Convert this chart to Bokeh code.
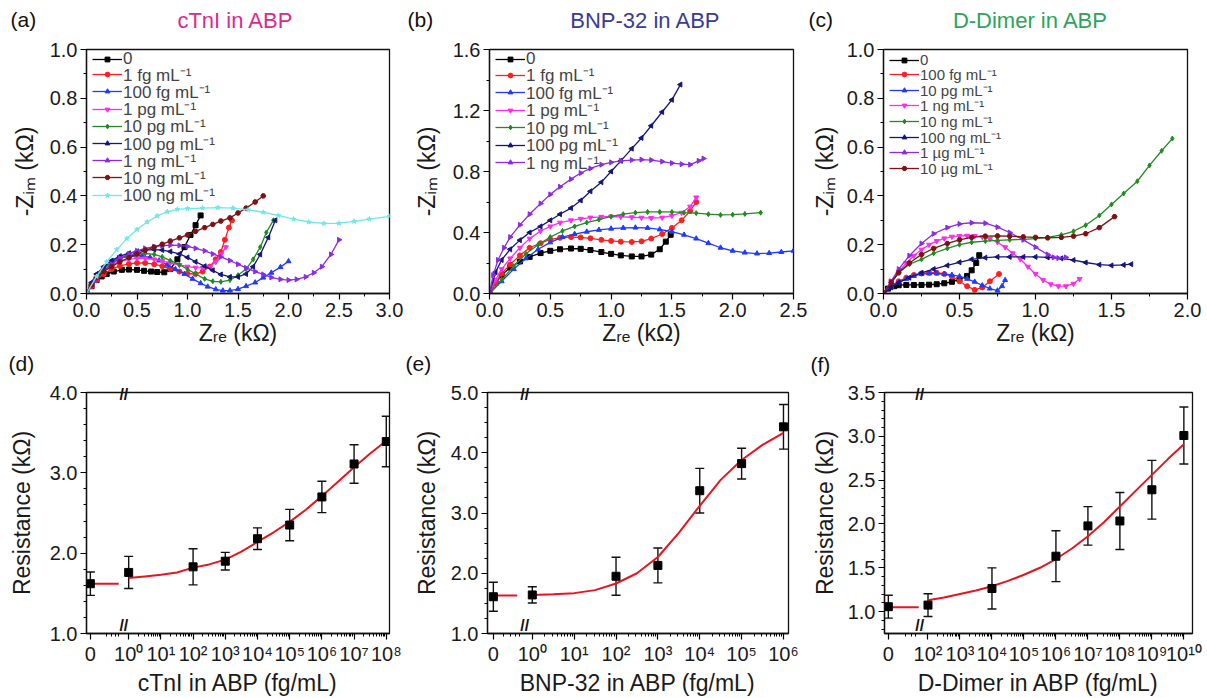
import math
from bokeh.plotting import figure
from bokeh.models import (Range1d, FixedTicker, PrintfTickFormatter, Label, Legend,
                          LegendItem, ColumnDataSource, Whisker, TeeHead, LinearAxis)
from bokeh.layouts import column, row
from bokeh.embed import file_html
from bokeh.resources import INLINE

FONT = "Liberation Sans"

# ====================== (a) cTnI in ABP : Nyquist ======================
A_NAMES = ["0", "1 fg mL⁻¹", "100 fg mL⁻¹", "1 pg mL⁻¹", "10 pg mL⁻¹",
           "100 pg mL⁻¹", "1 ng mL⁻¹", "10 ng mL⁻¹", "100 ng mL⁻¹"]
a0_x = [0, 0.05, 0.1, 0.15, 0.2, 0.27, 0.35, 0.42, 0.5, 0.57, 0.64, 0.7, 0.77, 0.83, 0.9, 0.97, 1.03, 1.08, 1.13]
a0_y = [0, 0.03, 0.055, 0.07, 0.08, 0.09, 0.097, 0.098, 0.097, 0.093, 0.09, 0.088, 0.087, 0.1, 0.14, 0.19, 0.24, 0.28, 0.32]
a1_x = [0, 0.05, 0.1, 0.17, 0.25, 0.33, 0.42, 0.5, 0.58, 0.67, 0.75, 0.83, 0.92, 1.0, 1.08, 1.15, 1.22, 1.28, 1.33, 1.37, 1.41, 1.44]
a1_y = [0, 0.03, 0.055, 0.08, 0.1, 0.113, 0.121, 0.125, 0.125, 0.12, 0.112, 0.1, 0.09, 0.082, 0.08, 0.09, 0.11, 0.14, 0.17, 0.22, 0.27, 0.3]
a2_x = [0, 0.05, 0.1, 0.17, 0.25, 0.33, 0.4, 0.47, 0.55, 0.63, 0.72, 0.8, 0.88, 0.97, 1.05, 1.13, 1.2, 1.28, 1.35, 1.42, 1.5, 1.58, 1.67, 1.75, 1.83, 1.92, 2.0]
a2_y = [0, 0.04, 0.075, 0.105, 0.13, 0.146, 0.154, 0.157, 0.155, 0.148, 0.135, 0.118, 0.1, 0.08, 0.06, 0.042, 0.028, 0.017, 0.012, 0.012, 0.018, 0.03, 0.045, 0.065, 0.085, 0.108, 0.132]
a3_x = [0, 0.05, 0.1, 0.17, 0.25, 0.33, 0.42, 0.5, 0.58, 0.67, 0.75, 0.83, 0.92, 1.0, 1.08, 1.15, 1.22, 1.28, 1.33, 1.38]
a3_y = [0, 0.035, 0.065, 0.095, 0.118, 0.132, 0.14, 0.144, 0.144, 0.14, 0.133, 0.125, 0.117, 0.11, 0.106, 0.105, 0.11, 0.13, 0.16, 0.19]
a4_x = [0, 0.05, 0.1, 0.17, 0.25, 0.33, 0.42, 0.5, 0.58, 0.67, 0.75, 0.83, 0.92, 1.0, 1.08, 1.17, 1.25, 1.33, 1.42, 1.5, 1.58, 1.65, 1.72, 1.78, 1.85]
a4_y = [0, 0.035, 0.07, 0.1, 0.125, 0.143, 0.155, 0.162, 0.164, 0.16, 0.15, 0.135, 0.118, 0.1, 0.08, 0.06, 0.05, 0.048, 0.055, 0.075, 0.1, 0.14, 0.19, 0.25, 0.3]
a5_x = [0, 0.05, 0.1, 0.17, 0.25, 0.33, 0.42, 0.5, 0.58, 0.67, 0.75, 0.83, 0.92, 1.0, 1.08, 1.17, 1.25, 1.33, 1.42, 1.5, 1.58, 1.65, 1.72, 1.8, 1.87]
a5_y = [0, 0.045, 0.08, 0.11, 0.135, 0.153, 0.165, 0.173, 0.178, 0.18, 0.178, 0.172, 0.162, 0.148, 0.13, 0.112, 0.095, 0.078, 0.068, 0.068, 0.08, 0.11, 0.16, 0.23, 0.3]
a6_x = [0, 0.08, 0.17, 0.25, 0.33, 0.42, 0.5, 0.58, 0.67, 0.75, 0.83, 0.92, 1.0, 1.08, 1.17, 1.25, 1.33, 1.42, 1.5, 1.58, 1.67, 1.75, 1.83, 1.92, 2.0, 2.08, 2.17, 2.25, 2.33, 2.42, 2.5]
a6_y = [0, 0.05, 0.09, 0.12, 0.145, 0.162, 0.175, 0.185, 0.192, 0.196, 0.198, 0.197, 0.193, 0.185, 0.175, 0.162, 0.15, 0.135, 0.12, 0.105, 0.09, 0.078, 0.066, 0.058, 0.055, 0.058, 0.068, 0.085, 0.11, 0.16, 0.22]
a7_x = [0, 0.05, 0.1, 0.17, 0.25, 0.33, 0.42, 0.5, 0.58, 0.67, 0.75, 0.83, 0.92, 1.0, 1.08, 1.17, 1.25, 1.33, 1.42, 1.5, 1.58, 1.67, 1.75]
a7_y = [0, 0.035, 0.065, 0.09, 0.11, 0.13, 0.147, 0.162, 0.177, 0.19, 0.202, 0.215, 0.228, 0.24, 0.255, 0.27, 0.283, 0.297, 0.31, 0.33, 0.35, 0.375, 0.4]
a8_x = [0, 0.1, 0.2, 0.3, 0.4, 0.5, 0.6, 0.7, 0.8, 0.9, 1.0, 1.15, 1.3, 1.45, 1.6, 1.75, 1.9, 2.05, 2.2, 2.35, 2.5, 2.65, 2.8, 3.0]
a8_y = [0, 0.07, 0.13, 0.18, 0.225, 0.262, 0.293, 0.318, 0.335, 0.345, 0.348, 0.35, 0.352, 0.35, 0.343, 0.333, 0.32, 0.305, 0.293, 0.287, 0.288, 0.296, 0.305, 0.316]

# ====================== (b) BNP-32 in ABP : Nyquist ======================
B_NAMES = ["0", "1 fg mL⁻¹", "100 fg mL⁻¹", "1 pg mL⁻¹", "10 pg mL⁻¹", "100 pg mL⁻¹", "1 ng mL⁻¹"]
b0_x = [0, 0.05, 0.1, 0.17, 0.25, 0.33, 0.42, 0.5, 0.58, 0.67, 0.75, 0.83, 0.92, 1.0, 1.08, 1.17, 1.25, 1.33, 1.4, 1.45, 1.49]
b0_y = [0, 0.07, 0.12, 0.17, 0.21, 0.24, 0.265, 0.28, 0.29, 0.295, 0.293, 0.285, 0.272, 0.26, 0.25, 0.243, 0.243, 0.255, 0.29, 0.34, 0.385]
b1_x = [0, 0.05, 0.1, 0.17, 0.25, 0.33, 0.42, 0.5, 0.58, 0.67, 0.75, 0.83, 0.92, 1.0, 1.08, 1.17, 1.25, 1.33, 1.42, 1.5, 1.58, 1.65, 1.7]
b1_y = [0, 0.07, 0.13, 0.19, 0.25, 0.3, 0.33, 0.355, 0.365, 0.37, 0.368, 0.362, 0.352, 0.345, 0.34, 0.338, 0.342, 0.36, 0.39, 0.43, 0.48, 0.54, 0.6]
b2_x = [0, 0.1, 0.2, 0.3, 0.4, 0.5, 0.6, 0.7, 0.8, 0.9, 1.0, 1.1, 1.2, 1.3, 1.4, 1.5, 1.6, 1.7, 1.8, 1.9, 2.0, 2.1, 2.2, 2.3, 2.4, 2.5]
b2_y = [0, 0.08, 0.16, 0.23, 0.29, 0.335, 0.37, 0.39, 0.405, 0.417, 0.425, 0.43, 0.432, 0.43, 0.42, 0.405, 0.385, 0.36, 0.33, 0.3, 0.28, 0.268, 0.262, 0.265, 0.272, 0.28]
b3_x = [0, 0.05, 0.1, 0.17, 0.25, 0.33, 0.42, 0.5, 0.58, 0.67, 0.75, 0.83, 0.92, 1.0, 1.08, 1.17, 1.25, 1.33, 1.42, 1.5, 1.58, 1.65, 1.7]
b3_y = [0, 0.09, 0.16, 0.23, 0.3, 0.36, 0.41, 0.44, 0.465, 0.48, 0.49, 0.498, 0.503, 0.505, 0.503, 0.5, 0.497, 0.495, 0.498, 0.51, 0.53, 0.57, 0.63]
b4_x = [0, 0.1, 0.2, 0.3, 0.4, 0.5, 0.6, 0.7, 0.8, 0.9, 1.0, 1.1, 1.2, 1.3, 1.4, 1.5, 1.6, 1.7, 1.8, 1.9, 2.0, 2.1, 2.23]
b4_y = [0, 0.09, 0.18, 0.26, 0.32, 0.37, 0.41, 0.44, 0.465, 0.485, 0.505, 0.52, 0.53, 0.535, 0.535, 0.535, 0.53, 0.527, 0.52, 0.515, 0.517, 0.522, 0.53]
b5_x = [0, 0.05, 0.1, 0.17, 0.25, 0.33, 0.42, 0.5, 0.58, 0.67, 0.75, 0.83, 0.92, 1.0, 1.08, 1.17, 1.25, 1.33, 1.42, 1.5, 1.57]
b5_y = [0, 0.14, 0.22, 0.29, 0.35, 0.4, 0.44, 0.48, 0.52, 0.56, 0.61, 0.67, 0.73, 0.8, 0.87, 0.95, 1.02, 1.1, 1.19, 1.27, 1.37]
b6_x = [0, 0.03, 0.07, 0.12, 0.17, 0.25, 0.33, 0.42, 0.5, 0.58, 0.67, 0.75, 0.83, 0.92, 1.0, 1.08, 1.17, 1.25, 1.33, 1.42, 1.5, 1.58, 1.65, 1.72, 1.76]
b6_y = [0, 0.12, 0.22, 0.3, 0.37, 0.45, 0.52, 0.59, 0.65, 0.7, 0.75, 0.79, 0.82, 0.845, 0.86, 0.87, 0.875, 0.878, 0.875, 0.865, 0.855, 0.848, 0.845, 0.87, 0.885]

# ====================== (c) D-Dimer in ABP : Nyquist ======================
C_NAMES = ["0", "100 fg mL⁻¹", "10 pg mL⁻¹", "1 ng mL⁻¹", "10 ng mL⁻¹",
           "100 ng mL⁻¹", "1 µg mL⁻¹", "10 µg mL⁻¹"]
c0_x = [0, 0.03, 0.07, 0.1, 0.15, 0.2, 0.25, 0.3, 0.35, 0.4, 0.45, 0.5, 0.55, 0.58, 0.61, 0.63]
c0_y = [0, 0.02, 0.03, 0.034, 0.035, 0.035, 0.035, 0.036, 0.038, 0.042, 0.048, 0.058, 0.072, 0.095, 0.125, 0.157]
c1_x = [0, 0.05, 0.1, 0.15, 0.2, 0.25, 0.3, 0.35, 0.4, 0.45, 0.5, 0.55, 0.6, 0.65, 0.7, 0.76]
c1_y = [0, 0.03, 0.05, 0.065, 0.076, 0.082, 0.085, 0.085, 0.08, 0.07, 0.05, 0.03, 0.015, 0.025, 0.05, 0.08]
c2_x = [0, 0.05, 0.1, 0.15, 0.2, 0.25, 0.3, 0.35, 0.4, 0.45, 0.5, 0.55, 0.6, 0.65, 0.7, 0.75, 0.78, 0.8]
c2_y = [0, 0.025, 0.045, 0.06, 0.072, 0.08, 0.082, 0.082, 0.08, 0.076, 0.07, 0.06, 0.048, 0.033, 0.02, 0.012, 0.03, 0.055]
c3_x = [0, 0.05, 0.1, 0.15, 0.2, 0.25, 0.3, 0.35, 0.4, 0.45, 0.5, 0.55, 0.6, 0.65, 0.7, 0.75, 0.8, 0.85, 0.9, 0.95, 1.0, 1.05, 1.1, 1.15, 1.2, 1.25, 1.29]
c3_y = [0, 0.05, 0.09, 0.125, 0.155, 0.18, 0.2, 0.215, 0.226, 0.233, 0.236, 0.237, 0.236, 0.232, 0.224, 0.21, 0.19, 0.165, 0.14, 0.11, 0.08, 0.055, 0.038, 0.03, 0.03, 0.04, 0.06]
c4_x = [0, 0.05, 0.1, 0.17, 0.25, 0.33, 0.42, 0.5, 0.58, 0.67, 0.75, 0.83, 0.92, 1.0, 1.08, 1.17, 1.25, 1.33, 1.42, 1.5, 1.58, 1.67, 1.75, 1.83, 1.9]
c4_y = [0, 0.045, 0.085, 0.12, 0.14, 0.165, 0.185, 0.2, 0.21, 0.215, 0.218, 0.22, 0.222, 0.225, 0.23, 0.24, 0.255, 0.28, 0.32, 0.365, 0.41, 0.46, 0.525, 0.585, 0.635]
c5_x = [0, 0.05, 0.1, 0.17, 0.25, 0.33, 0.42, 0.5, 0.58, 0.67, 0.75, 0.83, 0.92, 1.0, 1.08, 1.17, 1.25, 1.33, 1.42, 1.5, 1.58, 1.63]
c5_y = [0, 0.025, 0.045, 0.065, 0.085, 0.1, 0.115, 0.128, 0.14, 0.147, 0.15, 0.15, 0.15, 0.15, 0.148, 0.144, 0.137, 0.127, 0.118, 0.115, 0.117, 0.12]
c6_x = [0, 0.05, 0.1, 0.17, 0.25, 0.33, 0.42, 0.5, 0.58, 0.67, 0.75, 0.83, 0.92, 1.0, 1.08, 1.12, 1.15, 1.2]
c6_y = [0, 0.05, 0.1, 0.155, 0.205, 0.245, 0.27, 0.285, 0.29, 0.288, 0.272, 0.25, 0.22, 0.19, 0.16, 0.148, 0.145, 0.148]
c7_x = [0, 0.05, 0.1, 0.17, 0.25, 0.33, 0.42, 0.5, 0.58, 0.67, 0.75, 0.83, 0.92, 1.0, 1.08, 1.17, 1.25, 1.33, 1.42, 1.52]
c7_y = [0, 0.045, 0.085, 0.125, 0.16, 0.185, 0.205, 0.22, 0.23, 0.235, 0.236, 0.235, 0.232, 0.23, 0.228, 0.23, 0.235, 0.245, 0.27, 0.315]

# ====================== (d)-(f) calibration data ======================
D_CONC = [0, 1, 1e2, 1e3, 1e4, 1e5, 1e6, 1e7, 1e8]
D_RES = [1.62, 1.76, 1.83, 1.90, 2.18, 2.35, 2.70, 3.11, 3.39]
D_ERR = [0.145, 0.20, 0.225, 0.11, 0.135, 0.195, 0.195, 0.24, 0.315]
D_FIT_LOGC = [0, 0.5, 1, 1.5, 2, 2.5, 3, 3.5, 4, 4.5, 5, 5.5, 6, 6.5, 7, 7.5, 8]
D_FIT_R = [1.69, 1.71, 1.73, 1.76, 1.82, 1.86, 1.92, 2.02, 2.14, 2.26, 2.39, 2.54, 2.71, 2.89, 3.07, 3.24, 3.40]
D_FIT_ZERO = 1.62

E_CONC = [0, 1, 1e2, 1e3, 1e4, 1e5, 1e6]
E_RES = [1.61, 1.64, 1.95, 2.13, 3.37, 3.82, 4.43]
E_ERR = [0.24, 0.135, 0.315, 0.29, 0.37, 0.255, 0.37]
E_FIT_LOGC = [0, 0.5, 1, 1.5, 2, 2.5, 3, 3.5, 4, 4.5, 5, 5.5, 6]
E_FIT_R = [1.64, 1.65, 1.67, 1.72, 1.83, 2.0, 2.27, 2.67, 3.12, 3.55, 3.88, 4.13, 4.33]
E_FIT_ZERO = 1.63

F_CONC = [0, 1e2, 1e4, 1e6, 1e7, 1e8, 1e9, 1e10]
F_RES = [1.056, 1.074, 1.264, 1.632, 1.978, 2.034, 2.39, 3.009]
F_ERR = [0.13, 0.13, 0.235, 0.29, 0.22, 0.325, 0.335, 0.325]
F_FIT_LOGC = [2, 2.5, 3, 3.5, 4, 4.5, 5, 5.5, 6, 6.5, 7, 7.5, 8, 8.5, 9, 9.5, 10]
F_FIT_R = [1.13, 1.16, 1.2, 1.24, 1.29, 1.35, 1.42, 1.5, 1.6, 1.72, 1.86, 2.02, 2.2, 2.38, 2.56, 2.74, 2.91]
F_FIT_ZERO = 1.05

STYLES = [("#000000", "square", 0.0), ("#FF1F1F", "circle", 0.0), ("#1F3BFF", "triangle", 0.0),
          ("#FF2BEF", "inverted_triangle", 0.0), ("#1E8C1E", "diamond", 0.0),
          ("#15157E", "triangle", math.pi / 2), ("#8B2BE6", "triangle", -math.pi / 2),
          ("#7E1212", "hex", 0.0), ("#6CE9E9", "star", 0.0)]

SUP = {"0": "⁰", "1": "¹", "2": "²", "3": "³", "4": "⁴", "5": "⁵", "6": "⁶", "7": "⁷", "8": "⁸", "9": "⁹"}


def sup(n):
    return "10" + "".join(SUP[ch] for ch in str(n))


def header(w, h, texts):
    """Text strip above a panel: its frame fills the canvas, so 1 data unit = 1 px."""
    p = figure(width=w, height=h, x_range=Range1d(0, w), y_range=Range1d(0, h),
               output_backend="svg", toolbar_location=None,
               x_axis_location=None, y_axis_location=None,
               min_border_left=0, min_border_right=0, min_border_top=0, min_border_bottom=0)
    p.outline_line_color = None
    p.xgrid.visible = False
    p.ygrid.visible = False
    p.background_fill_color = "white"
    p.border_fill_color = "white"
    for txt, x, y, size, color, align in texts:
        p.add_layout(Label(x=x, y=y, text=txt, text_font=FONT, text_font_size=f"{size}px",
                           text_color=color, text_align=align))
    return p


def base_fig(w, h, bl, br, bt, bb, xr, yr):
    p = figure(width=w, height=h, x_range=Range1d(*xr), y_range=Range1d(*yr),
               output_backend="svg", toolbar_location=None,
               min_border_left=bl, min_border_right=br, min_border_top=bt, min_border_bottom=bb)
    p.background_fill_color = "white"
    p.border_fill_color = "white"
    p.xgrid.visible = False
    p.ygrid.visible = False
    p.outline_line_color = "#111111"
    p.outline_line_width = 1.3
    for ax in (p.xaxis[0], p.yaxis[0]):
        ax.axis_line_width = 1.3
        ax.axis_line_color = "#111111"
        ax.major_tick_out = 6
        ax.major_tick_in = 0
        ax.minor_tick_out = 3
        ax.minor_tick_in = 0
        ax.major_tick_line_width = 1.2
        ax.minor_tick_line_width = 1.0
        ax.major_label_text_font = FONT
        ax.major_label_text_font_size = "20px"
        ax.major_label_text_color = "#1a1a1a"
        ax.major_label_standoff = 3
        ax.axis_label_text_font = FONT
        ax.axis_label_text_font_size = "23px"
        ax.axis_label_text_font_style = "normal"
        ax.axis_label_text_color = "#1a1a1a"
    return p


def steps(lo, hi, st):
    n = int(round((hi - lo) / st))
    return [round(lo + i * st, 4) for i in range(n + 1)]


def nyquist(w, bl, br, xmax, ymax, xmaj, ymaj, names, xs, ys, lfs, row0, pitch, item_h,
            ylab_standoff):
    fh = 244
    p = base_fig(w, 315, bl, br, 12, 59, (0, xmax), (0, ymax))
    p.xaxis[0].ticker = FixedTicker(ticks=steps(0, xmax, xmaj), minor_ticks=steps(0, xmax, xmaj / 2))
    p.yaxis[0].ticker = FixedTicker(ticks=steps(0, ymax, ymaj), minor_ticks=steps(0, ymax, ymaj / 2))
    p.xaxis[0].formatter = PrintfTickFormatter(format="%.1f")
    p.yaxis[0].formatter = PrintfTickFormatter(format="%.1f")
    p.yaxis[0].axis_label = "-Zᵢₘ (kΩ)"
    p.yaxis[0].axis_label_standoff = ylab_standoff
    p.xaxis[0].axis_label = "Zᵣₑ (kΩ)"
    p.xaxis[0].axis_label_standoff = 0
    for i, (nm, x, y) in enumerate(zip(names, xs, ys)):
        col, mk, ang = STYLES[i]
        ln = p.line(x, y, line_color=col, line_width=1.3)
        sc = p.scatter(x, y, marker=mk, angle=ang, size=5, fill_color=col, line_color=col)
        # one single-entry legend per row, so that rows can sit as tightly as in the original
        centre_from_top = row0 + pitch * i
        vy = fh - centre_from_top - item_h / 2
        leg = Legend(items=[LegendItem(label=nm, renderers=[ln, sc])], location=(6, vy),
                     border_line_alpha=0, background_fill_alpha=0,
                     label_text_font=FONT, label_text_font_size=f"{lfs}px", glyph_width=30,
                     glyph_height=12, label_height=12, spacing=0, padding=0, margin=0,
                     label_standoff=1)
        p.add_layout(leg)
    return p


def calib(w, bl, br, xr, yr, ymaj, yminor, conc, res, err, fit_logc, fit_r, fit_zero,
          zero_pos, brk, flat_end, first_dec, last_dec, xlabel, ylab_standoff):
    p = base_fig(w, 318, bl, br, 12, 60, xr, yr)
    ticks = [zero_pos] + list(range(first_dec, last_dec + 1))
    minors = []
    for d in range(first_dec - 1, last_dec):
        for k in range(2, 10):
            v = d + math.log10(k)
            if (zero_pos + 0.2 < v < brk - 0.1) or (first_dec < v < last_dec):
                minors.append(v)
    p.xaxis[0].ticker = FixedTicker(ticks=ticks, minor_ticks=minors)
    over = {zero_pos: "0"}
    for d in range(first_dec, last_dec + 1):
        over[d] = sup(d)
    p.xaxis[0].major_label_overrides = over
    p.yaxis[0].ticker = FixedTicker(ticks=steps(math.ceil(yr[0] / ymaj - 1e-9) * ymaj, yr[1], ymaj),
                                    minor_ticks=steps(math.ceil(yr[0] / yminor - 1e-9) * yminor, yr[1], yminor))
    p.yaxis[0].formatter = PrintfTickFormatter(format="%.1f")
    p.yaxis[0].axis_label = "Resistance (kΩ)"
    p.yaxis[0].axis_label_standoff = ylab_standoff
    p.xaxis[0].axis_label = xlabel
    p.xaxis[0].axis_label_standoff = 2
    xs = [zero_pos if c == 0 else math.log10(c) for c in conc]
    p.line([zero_pos, flat_end], [fit_zero, fit_zero], line_color="#E8141E", line_width=2)
    p.line(fit_logc, fit_r, line_color="#E8141E", line_width=2)
    src = ColumnDataSource(dict(x=xs, y=res, upper=[r + e for r, e in zip(res, err)],
                                lower=[r - e for r, e in zip(res, err)]))
    p.add_layout(Whisker(source=src, base="x", upper="upper", lower="lower",
                         line_color="#111111", line_width=1.4,
                         upper_head=TeeHead(size=9, line_width=1.4, line_color="#111111"),
                         lower_head=TeeHead(size=9, line_width=1.4, line_color="#111111")))
    p.scatter("x", "y", source=src, marker="square", size=8, color="#000000")
    # axis-break mark on the top edge: an extra tick-less axis whose only label is "//"
    brk_ax = LinearAxis(ticker=FixedTicker(ticks=[brk]), major_label_overrides={brk: "//"},
                        axis_line_color=None, major_tick_line_color=None,
                        minor_tick_line_color=None, major_tick_out=0, major_tick_in=0,
                        major_label_standoff=-10, major_label_text_font=FONT,
                        major_label_text_font_size="16px", major_label_text_font_style="bold",
                        major_label_text_color="#111111")
    p.add_layout(brk_ax, "above")
    # axis-break mark on the bottom edge, sitting on the axis line inside the frame
    p.add_layout(Label(x=brk, y=yr[0], text="//", text_align="center", text_baseline="bottom",
                       text_font=FONT, text_font_size="16px", text_font_style="bold",
                       text_color="#111111"))
    return p


# ---- top row (titles / panel letters)
ha = header(405, 37, [("(a)", 10, 7, 21, "#111111", "left"),
                      ("cTnI in ABP", 235, 5, 22, "#DC2A8C", "center")])
hb = header(403, 37, [("(b)", 2, 7, 21, "#111111", "left"),
                      ("BNP-32 in ABP", 240, 5, 22, "#3A3A98", "center")])
hc = header(399, 37, [("(c)", 0, 7, 21, "#111111", "left"),
                      ("D-Dimer in ABP", 222, 5, 22, "#2CA45C", "center")])

pa = nyquist(405, 86, 16, 3.0, 1.0, 0.5, 0.2, A_NAMES,
             [a0_x, a1_x, a2_x, a3_x, a4_x, a5_x, a6_x, a7_x, a8_x],
             [a0_y, a1_y, a2_y, a3_y, a4_y, a5_y, a6_y, a7_y, a8_y],
             17, 8, 17.2, 23.0, 9)
pb = nyquist(403, 84, 15, 2.5, 1.6, 0.5, 0.4, B_NAMES,
             [b0_x, b1_x, b2_x, b3_x, b4_x, b5_x, b6_x],
             [b0_y, b1_y, b2_y, b3_y, b4_y, b5_y, b6_y],
             17, 8, 17.5, 23.0, 10)
pc = nyquist(399, 75, 20, 2.0, 1.0, 0.5, 0.2, C_NAMES,
             [c0_x, c1_x, c2_x, c3_x, c4_x, c5_x, c6_x, c7_x],
             [c0_y, c1_y, c2_y, c3_y, c4_y, c5_y, c6_y, c7_y],
             15, 9, 15.7, 20.3, 6)

# ---- bottom row
hd = header(405, 28, [("(d)", 8, 6, 21, "#111111", "left")])
he = header(403, 28, [("(e)", 0, 6, 21, "#111111", "left")])
hf = header(399, 28, [("(f)", 2, 5, 21, "#111111", "left")])

pd = calib(405, 86, 16, (-1.31, 8.10), (1.0, 4.0), 1.0, 0.2, D_CONC, D_RES, D_ERR,
           D_FIT_LOGC, D_FIT_R, D_FIT_ZERO, -1.19, -0.15, -0.31, 0, 8,
           "cTnI in ABP (fg/mL)", 12)
pe = calib(403, 82, 20, (-1.07, 6.12), (1.0, 5.0), 1.0, 0.25, E_CONC, E_RES, E_ERR,
           E_FIT_LOGC, E_FIT_R, E_FIT_ZERO, -0.93, -0.18, -0.36, 0, 6,
           "BNP-32 in ABP (fg/mL)", 8)
pf = calib(399, 75, 15, (0.64, 10.27), (0.75, 3.5), 0.5, 0.1, F_CONC, F_RES, F_ERR,
           F_FIT_LOGC, F_FIT_R, F_FIT_ZERO, 0.76, 1.74, 1.71, 2, 10,
           "D-Dimer in ABP (fg/mL)", 7)

layout = column(row(ha, hb, hc), row(pa, pb, pc), row(hd, he, hf), row(pd, pe, pf))
open("out.html", "w").write(file_html(layout, INLINE))
